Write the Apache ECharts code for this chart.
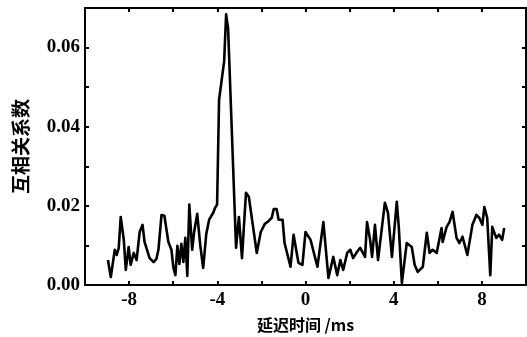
<!DOCTYPE html>
<html>
<head>
<meta charset="utf-8">
<script src="https://cdn.jsdelivr.net/npm/echarts@6/dist/echarts.min.js"></script>
<style>
  html, body { margin: 0; padding: 0; background: #fff; }
  #chart { width: 527px; height: 337px; }
</style>
</head>
<body>
<div id="chart"></div>
<script>
// delay (ms) and cross-correlation coefficient
var delays = [
  -8.96, -8.83, -8.65, -8.56, -8.47, -8.38, -8.24, -8.15, -8.02, -7.93,
  -7.79, -7.66, -7.52, -7.39, -7.30, -7.07, -6.89, -6.76, -6.67, -6.53,
  -6.40, -6.22, -6.08, -5.99, -5.90, -5.81, -5.72, -5.63, -5.54, -5.45,
  -5.36, -5.27, -5.14, -5.05, -4.91, -4.77, -4.64, -4.50, -4.37, -4.19,
  -4.10, -4.01, -3.92, -3.69, -3.60, -3.51, -3.15, -3.02, -2.88, -2.70,
  -2.57, -2.39, -2.21, -2.03, -1.85, -1.67, -1.53, -1.44, -1.31, -1.22,
  -1.04, -0.95, -0.68, -0.54, -0.45, -0.32, -0.14, 0.00, 0.23, 0.54,
  0.81, 1.04, 1.26, 1.44, 1.58, 1.71, 1.89, 2.03, 2.16, 2.34,
  2.48, 2.70, 2.79, 2.93, 3.02, 3.15, 3.29, 3.60, 3.74, 3.92,
  4.14, 4.23, 4.37, 4.59, 4.82, 4.95, 5.09, 5.32, 5.50, 5.63,
  5.77, 5.95, 6.17, 6.22, 6.40, 6.53, 6.67, 6.85, 6.98, 7.12,
  7.34, 7.57, 7.75, 7.88, 8.02, 8.11, 8.24, 8.38, 8.47, 8.65,
  8.78, 8.92, 9.01
];
var coeffs = [
  0.0063, 0.0020, 0.0089, 0.0076, 0.0094, 0.0172, 0.0114, 0.0038, 0.0096, 0.0051,
  0.0081, 0.0063, 0.0134, 0.0152, 0.0109, 0.0068, 0.0058, 0.0066, 0.0089, 0.0177,
  0.0175, 0.0109, 0.0089, 0.0043, 0.0025, 0.0099, 0.0053, 0.0104, 0.0058, 0.0119,
  0.0023, 0.0203, 0.0089, 0.0134, 0.0180, 0.0099, 0.0043, 0.0129, 0.0165, 0.0182,
  0.0195, 0.0203, 0.0468, 0.0565, 0.0684, 0.0648, 0.0094, 0.0172, 0.0068, 0.0233,
  0.0223, 0.0152, 0.0081, 0.0134, 0.0154, 0.0162, 0.0170, 0.0192, 0.0192, 0.0165,
  0.0165, 0.0106, 0.0046, 0.0127, 0.0132, 0.0056, 0.0051, 0.0134, 0.0114, 0.0046,
  0.0159, 0.0018, 0.0071, 0.0025, 0.0063, 0.0038, 0.0081, 0.0089, 0.0068, 0.0084,
  0.0094, 0.0071, 0.0159, 0.0114, 0.0071, 0.0152, 0.0063, 0.0208, 0.0182, 0.0071,
  0.0210, 0.0147, 0.0005, 0.0106, 0.0096, 0.0051, 0.0033, 0.0046, 0.0132, 0.0081,
  0.0089, 0.0081, 0.0144, 0.0109, 0.0147, 0.0159, 0.0185, 0.0119, 0.0106, 0.0122,
  0.0076, 0.0152, 0.0177, 0.0170, 0.0152, 0.0197, 0.0170, 0.0025, 0.0147, 0.0119,
  0.0127, 0.0114, 0.0144
];

var serif = '"Liberation Serif", "DejaVu Serif", serif';
var cjk = '"Noto Sans CJK SC", sans-serif';

var chart = echarts.init(document.getElementById('chart'));

var points = [];
for (var i = 0; i < delays.length; i++) {
  points.push([delays[i], coeffs[i]]);
}

var lineStyle = { color: '#000', width: 2 };

var option = {
  animation: false,
  backgroundColor: '#fff',
  grid: { left: 85, right: 1, top: 8, bottom: 52, outerBoundsMode: 'none' },
  xAxis: [
    {
      type: 'value',
      min: -10,
      max: 10,
      interval: 2,
      position: 'bottom',
      name: '延迟时间 /ms',
      nameLocation: 'middle',
      nameGap: 32,
      nameTextStyle: { fontFamily: cjk, fontSize: 16, fontWeight: 'bold', color: '#000' },
      axisLine: { onZero: false, lineStyle: lineStyle },
      axisTick: { inside: true, length: 4, lineStyle: lineStyle },
      axisLabel: {
        color: '#000',
        fontFamily: serif,
        fontWeight: 'bold',
        fontSize: 19,
        margin: 6,
        formatter: function(v) {
          return v % 4 === 0 ? String(v) : '';
        }
      },
      splitLine: { show: false }
    },
    {
      type: 'value',
      min: -10,
      max: 10,
      interval: 2,
      position: 'top',
      axisLine: { onZero: false, lineStyle: lineStyle },
      axisTick: { inside: true, length: 4, lineStyle: lineStyle },
      axisLabel: { show: false },
      splitLine: { show: false }
    }
  ],
  yAxis: [
    {
      type: 'value',
      min: 0,
      max: 0.07,
      interval: 0.01,
      position: 'left',
      name: '互相关系数',
      nameLocation: 'middle',
      nameGap: 55,
      nameRotate: 90,
      nameTextStyle: { fontFamily: cjk, fontSize: 19, fontWeight: 'bold', color: '#000' },
      axisLine: { show: true, onZero: false, lineStyle: lineStyle },
      axisTick: { inside: true, length: 4, lineStyle: lineStyle },
      axisLabel: {
        color: '#000',
        fontFamily: serif,
        fontWeight: 'bold',
        fontSize: 19,
        margin: 5,
        formatter: function(v) {
          var k = Math.round(v * 100);
          return k % 2 === 0 ? v.toFixed(2) : '';
        }
      },
      splitLine: { show: false }
    },
    {
      type: 'value',
      min: 0,
      max: 0.07,
      interval: 0.01,
      position: 'right',
      axisLine: { show: true, onZero: false, lineStyle: lineStyle },
      axisTick: { inside: true, length: 4, lineStyle: lineStyle },
      axisLabel: { show: false },
      splitLine: { show: false }
    }
  ],
  series: [
    {
      type: 'line',
      xAxisIndex: 0,
      yAxisIndex: 0,
      data: points,
      showSymbol: false,
      symbol: 'none',
      lineStyle: { color: '#000', width: 2.6, join: 'round' }
    }
  ]
};

chart.setOption(option);
</script>
</body>
</html>
